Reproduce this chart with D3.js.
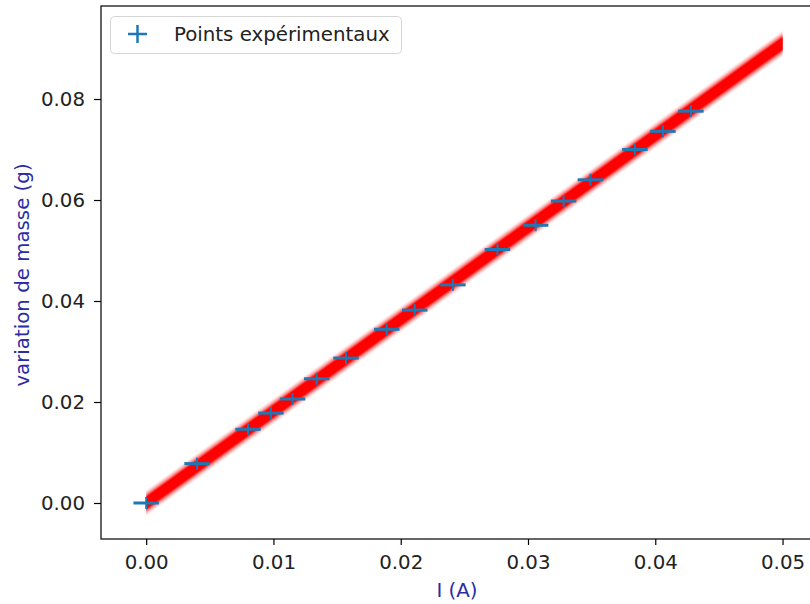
<!DOCTYPE html>
<html>
<head>
<meta charset="utf-8">
<script src="https://cdn.jsdelivr.net/npm/d3@7"></script>
<style>
  html, body { margin: 0; padding: 0; background: #fff; }
  svg { display: block; }
  text { font-family: "DejaVu Sans", sans-serif; }
</style>
</head>
<body>
<svg id="chart" width="810" height="604"></svg>
<script>
// ---- data ----
const currentA = [0.0, 0.0040, 0.0080, 0.0098, 0.0115, 0.0134, 0.0157, 0.0189, 0.0211, 0.0241, 0.0276, 0.0306, 0.0328, 0.0349, 0.0384, 0.0406, 0.0428];
const massG    = [0.0, 0.0078, 0.0146, 0.0178, 0.0206, 0.0246, 0.0287, 0.0344, 0.0382, 0.0432, 0.0502, 0.0550, 0.0598, 0.0640, 0.0700, 0.0736, 0.0776];
const errI = 0.001;
const fitI = [0.0, 0.05];
const fitM = [0.0, 0.0910];
const xTicks = [0.00, 0.01, 0.02, 0.03, 0.04, 0.05];
const yTicks = [0.00, 0.02, 0.04, 0.06, 0.08];
const xLabel = "I (A)";
const yLabel = "variation de masse (g)";
const legendLabel = "Points expérimentaux";

// ---- layout ----
const svg = d3.select("#chart");
const pL = 101, pR = 815, pT = 6, pB = 539;
const x = d3.scaleLinear().domain([-0.00355, 0.05255]).range([pL, pR]);
const y = d3.scaleLinear().domain([-0.00713, 0.09842]).range([pB, pT]);
const blue = "#1f77b4";
const labelColor = "#2b2ba6";
const fs = "19.8px";

// band (fit line drawn as soft red band: stacked translucent layers)
const fitPts = fitI.map((v, i) => [v, fitM[i]]);
const bandLayers = [[13, 0.05], [12, 0.07], [11, 0.1], [10, 0.14], [9, 0.2], [8, 0.3], [7, 0.5], [6, 1]];
const bandG = svg.append("g");
bandLayers.forEach(([h, o]) => {
  const area = d3.area()
    .x(d => x(d[0]))
    .y0(d => y(d[1]) - h)
    .y1(d => y(d[1]) + h);
  bandG.append("path").datum(fitPts).attr("d", area)
    .attr("fill", "#ff0000").attr("fill-opacity", o);
});

// error bars
const pts = currentA.map((v, i) => [v, massG[i]]);
const ptG = svg.append("g");
ptG.selectAll("line.err").data(pts).join("line").attr("class", "err")
  .attr("x1", d => x(d[0] - errI)).attr("x2", d => x(d[0] + errI))
  .attr("y1", d => y(d[1])).attr("y2", d => y(d[1]))
  .attr("stroke", blue).attr("stroke-width", 3);
ptG.selectAll("line.mk").data(pts).join("line").attr("class", "mk")
  .attr("x1", d => x(d[0])).attr("x2", d => x(d[0]))
  .attr("y1", d => y(d[1]) - 6).attr("y2", d => y(d[1]) + 6)
  .attr("stroke", blue).attr("stroke-width", 2);

// axes
const xAxis = d3.axisBottom(x).tickValues(xTicks).tickFormat(d3.format(".2f")).tickSize(6).tickPadding(10);
const yAxis = d3.axisLeft(y).tickValues(yTicks).tickFormat(d3.format(".2f")).tickSize(7).tickPadding(9);
const gx = svg.append("g").attr("transform", `translate(0,${pB})`).call(xAxis);
const gy = svg.append("g").attr("transform", `translate(${pL},0)`).call(yAxis);
[gx, gy].forEach(g => {
  g.select(".domain").remove();
  g.selectAll(".tick line").attr("stroke", "#000").attr("stroke-width", 1.2);
  g.selectAll(".tick text").attr("fill", "#222").style("font-size", fs).style("font-family", "DejaVu Sans, sans-serif");
});

// frame
svg.append("rect").attr("x", pL).attr("y", pT).attr("width", pR - pL).attr("height", pB - pT)
  .attr("fill", "none").attr("stroke", "#000").attr("stroke-width", 1.2);

// labels
svg.append("text").attr("x", 457).attr("y", 597).attr("text-anchor", "middle")
  .attr("fill", labelColor).style("font-size", fs).text(xLabel);
svg.append("text").attr("transform", `translate(29,275) rotate(-90)`).attr("text-anchor", "middle")
  .attr("fill", labelColor).style("font-size", fs).text(yLabel);

// legend
const lg = svg.append("g");
lg.append("rect").attr("x", 110.5).attr("y", 16.5).attr("width", 291).attr("height", 37).attr("rx", 4)
  .attr("fill", "#fff").attr("fill-opacity", 0.8).attr("stroke", "#d6d6d6").attr("stroke-width", 1);
lg.append("line").attr("x1", 128).attr("x2", 147).attr("y1", 34).attr("y2", 34).attr("stroke", blue).attr("stroke-width", 2.5);
lg.append("line").attr("x1", 137.5).attr("x2", 137.5).attr("y1", 25).attr("y2", 43).attr("stroke", blue).attr("stroke-width", 2.5);
lg.append("text").attr("x", 174).attr("y", 41).attr("fill", "#222").style("font-size", fs).text(legendLabel);
</script>
</body>
</html>
